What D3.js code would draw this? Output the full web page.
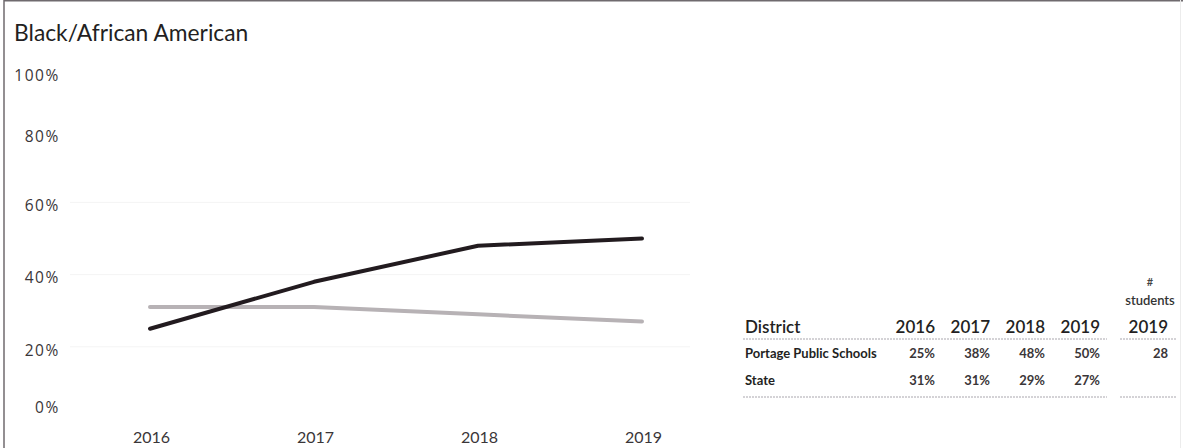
<!DOCTYPE html>
<html>
<head>
<meta charset="utf-8">
<script src="https://cdn.jsdelivr.net/npm/d3@7"></script>
<style>
  html, body { margin: 0; padding: 0; background: #fff; }
  svg { display: block; font-family: Lato, "Open Sans", sans-serif; }
</style>
</head>
<body>
<svg id="chart" width="1183" height="448"></svg>
<script>
// Share of students, by year
const years = ["2016", "2017", "2018", "2019"];
const districtValues = [25, 38, 48, 50];
const stateValues = [31, 31, 29, 27];
const seriesNames = ["Portage Public Schools", "State"];
const yTicks = [0, 20, 40, 60, 80, 100];
const studentsYear = "2019";
const studentsCount = [28, null];
const title = "Black/African American";

const svg = d3.select("#chart");
const W = 1183, H = 448;

// frame
svg.append("line").attr("x1", 4).attr("x2", 4).attr("y1", 0).attr("y2", H)
  .attr("stroke", "#6f6a6e").attr("stroke-width", 1.5);
svg.append("line").attr("x1", 4).attr("x2", W).attr("y1", 0.8).attr("y2", 0.8)
  .attr("stroke", "#6f6a6e").attr("stroke-width", 1.6);
svg.append("line").attr("x1", W - 2.5).attr("x2", W - 2.5).attr("y1", 0).attr("y2", H)
  .attr("stroke", "#ececec").attr("stroke-width", 1);

// title
svg.append("text").attr("x", 14).attr("y", 41)
  .attr("font-size", 22.8).attr("fill", "#231f22").text(title);

// scales
const x = d3.scalePoint().domain(years).range([150, 642]);
const y = d3.scaleLinear().domain([0, 100]).range([419, 58]);

// faint gridlines
svg.append("g").selectAll("line").data([20, 40, 60]).join("line")
  .attr("x1", 70).attr("x2", 690)
  .attr("y1", d => y(d)).attr("y2", d => y(d))
  .attr("stroke", "#f4f4f4").attr("stroke-width", 1);

// y axis
const yAxis = svg.append("g").attr("transform", "translate(60,2)")
  .call(d3.axisLeft(y).tickValues(yTicks).tickSize(0).tickPadding(0)
    .tickFormat(d => d + "%"));
yAxis.select(".domain").remove();
yAxis.selectAll("text").attr("font-size", 15.5).attr("fill", "#3a3638")
  .attr("font-family", "'Open Sans', sans-serif").attr("letter-spacing", 1.6)
  .attr("dy", d => d === 0 ? "-0.55em" : d === 100 ? "1.3em" : d === 80 ? "0.62em" : "0.4em");

// x axis
const xAxis = svg.append("g").attr("transform", "translate(1,437)")
  .call(d3.axisBottom(x).tickSize(0).tickPadding(0));
xAxis.select(".domain").remove();
xAxis.selectAll("text").attr("font-size", 16).attr("fill", "#3a3638")
  .attr("font-family", "Lato, sans-serif").attr("dy", "0.4em");

// lines
const line = d3.line().x((d, i) => x(years[i])).y(d => y(d));
svg.append("path").datum(stateValues).attr("d", line)
  .attr("fill", "none").attr("stroke", "#b7b2b5").attr("stroke-width", 4)
  .attr("stroke-linejoin", "round").attr("stroke-linecap", "round");
svg.append("path").datum(districtValues).attr("d", line)
  .attr("fill", "none").attr("stroke", "#221b1f").attr("stroke-width", 4)
  .attr("stroke-linejoin", "round").attr("stroke-linecap", "round");

// summary table
const tbl = svg.append("g");
const colRight = d3.scalePoint().domain(years).range([935, 1100]);
const studentsRight = 1168;
const headerY = 333, row1Y = 358, row2Y = 385;

tbl.append("text").attr("x", 745).attr("y", headerY)
  .attr("font-size", 17).attr("font-weight", 600).attr("fill", "#231f22").text("District");
tbl.selectAll(".hdr").data(years).join("text")
  .attr("x", d => colRight(d)).attr("y", headerY).attr("text-anchor", "end")
  .attr("font-size", 17).attr("font-weight", 600).attr("fill", "#231f22").text(d => d);
tbl.append("text").attr("x", studentsRight).attr("y", headerY).attr("text-anchor", "end")
  .attr("font-size", 17).attr("font-weight", 600).attr("fill", "#231f22").text(studentsYear);
tbl.append("text").attr("x", 1150).attr("y", 286).attr("text-anchor", "middle")
  .attr("font-size", 11).attr("font-weight", 600).attr("fill", "#444").text("#");
tbl.append("text").attr("x", 1150).attr("y", 305).attr("text-anchor", "middle")
  .attr("font-size", 13).attr("font-weight", 600).attr("fill", "#333").text("students");

const rows = [
  { name: seriesNames[0], vals: districtValues, n: studentsCount[0], yy: row1Y },
  { name: seriesNames[1], vals: stateValues, n: studentsCount[1], yy: row2Y }
];
rows.forEach(r => {
  tbl.append("text").attr("x", 745).attr("y", r.yy)
    .attr("font-size", 13).attr("font-weight", 700).attr("fill", "#231f22").text(r.name);
  tbl.selectAll(null).data(r.vals).join("text")
    .attr("x", (d, i) => colRight(years[i])).attr("y", r.yy).attr("text-anchor", "end")
    .attr("font-size", 13).attr("font-weight", 700).attr("fill", "#3a3638").text(d => d + "%");
  if (r.n !== null) {
    tbl.append("text").attr("x", studentsRight).attr("y", r.yy).attr("text-anchor", "end")
      .attr("font-size", 13).attr("font-weight", 700).attr("fill", "#3a3638").text(r.n);
  }
});

// rule lines
[[743, 1107], [1120, 1176]].forEach(([a, b]) => {
  [339, 397].forEach(yy => {
    tbl.append("line").attr("x1", a).attr("x2", b).attr("y1", yy).attr("y2", yy)
      .attr("stroke", "#a9a6ad").attr("stroke-width", 1).attr("stroke-dasharray", "2,1");
  });
});
</script>
</body>
</html>
